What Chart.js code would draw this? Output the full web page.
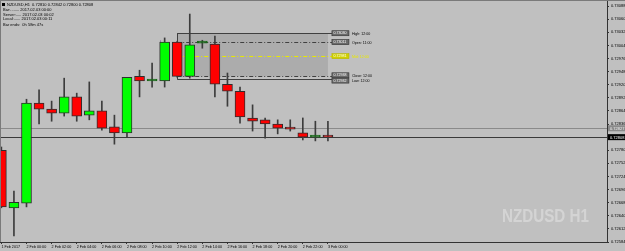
<!DOCTYPE html>
<html>
<head>
<meta charset="utf-8">
<script src="https://cdn.jsdelivr.net/npm/chart.js@4.4.1/dist/chart.umd.min.js"></script>
<style>
html, body { margin: 0; padding: 0; background: #c0c0c0; }
canvas { display: block; }
</style>
</head>
<body>
<canvas id="chart" width="625" height="251"></canvas>
<script>
// NZDUSD H1, 1 Feb 22:00 .. 3 Feb 00:00
var opens  = [0.72780, 0.72657, 0.72667, 0.72881, 0.72868, 0.72859, 0.72894, 0.72855, 0.72864, 0.72830,
              0.72817, 0.72938, 0.72928, 0.72928, 0.73011, 0.72938, 0.73009, 0.73007, 0.72921, 0.72906,
              0.72849, 0.72845, 0.72836, 0.72827, 0.72817, 0.72808, 0.72810];
var highs  = [0.72787, 0.72693, 0.72889, 0.72909, 0.72885, 0.72934, 0.72902, 0.72926, 0.72885, 0.72855,
              0.72936, 0.72951, 0.72966, 0.73020, 0.73013, 0.73071, 0.73015, 0.73024, 0.72945, 0.72915,
              0.72877, 0.72849, 0.72845, 0.72845, 0.72849, 0.72842, 0.72842];
var lows   = [0.72657, 0.72597, 0.72659, 0.72836, 0.72842, 0.72853, 0.72842, 0.72845, 0.72823, 0.72793,
              0.72808, 0.72894, 0.72915, 0.72915, 0.72936, 0.72934, 0.72998, 0.72894, 0.72874, 0.72838,
              0.72821, 0.72806, 0.72815, 0.72821, 0.72802, 0.72800, 0.72800];
var closes = [0.72659, 0.72669, 0.72881, 0.72868, 0.72859, 0.72894, 0.72853, 0.72864, 0.72827, 0.72817,
              0.72936, 0.72928, 0.72928, 0.73011, 0.72938, 0.73005, 0.73009, 0.72921, 0.72906, 0.72851,
              0.72842, 0.72836, 0.72827, 0.72825, 0.72808, 0.72808, 0.72808];

var yTicks = [0.73088, 0.73060, 0.73032, 0.73004, 0.72976, 0.72948, 0.72920, 0.72892, 0.72864, 0.72836,
              0.72808, 0.72780, 0.72752, 0.72724, 0.72696, 0.72668, 0.72640, 0.72612, 0.72584];
var xTickBars = [0, 2, 4, 6, 8, 10, 12, 14, 16, 18, 20, 22, 24, 26];
var xTickLabels = ['1 Feb 2017', '2 Feb 00:00', '2 Feb 02:00', '2 Feb 04:00', '2 Feb 06:00', '2 Feb 08:00',
                   '2 Feb 10:00', '2 Feb 12:00', '2 Feb 14:00', '2 Feb 16:00', '2 Feb 18:00', '2 Feb 20:00',
                   '2 Feb 22:00', '3 Feb 00:00'];

var bid = 0.72808;
var ask = 0.72827;

// range box object drawn on the chart
var boxFrom = 14, boxTo = 26;
var boxLevels = [0.73030, 0.73011, 0.72981, 0.72938, 0.72932];
var boxNames  = ['High: 12:00', 'Open: 11:00', 'Mid: 12:00', 'Close: 12:00', 'Low: 12:00'];

var infoLines = ['NZDUSD,H1  0.72810 0.72842 0.72800 0.72808',
                 'Bar:........ 2017.02.03 00:00',
                 'Server:..... 2017.02.03 00:02',
                 'Local:...... 2017.02.03 00:11',
                 'Bar ends:  0h 58m 47s'];

var bodies = [], wicks = [], fills = [], edges = [];
for (var i = 0; i < opens.length; i++) {
    bodies.push({x: i, y: [opens[i], closes[i]]});
    wicks.push({x: i, y: [lows[i], highs[i]]});
    if (closes[i] > opens[i]) { fills.push('#00ff00'); edges.push('#2e2e2e'); }
    else if (closes[i] < opens[i]) { fills.push('#ff0000'); edges.push('#2e2e2e'); }
    else { fills.push('#1a6a1a'); edges.push('#1a6a1a'); }
}

var FONT = '"Liberation Sans", Arial, sans-serif';

var mtPlugin = {
    id: 'mt',
    beforeDraw: function(c) {
        var ctx = c.ctx;
        ctx.save();
        ctx.fillStyle = '#c0c0c0';
        ctx.fillRect(0, 0, c.width, c.height);
        ctx.restore();
    },
    beforeDatasetsDraw: function(c) {
        var ctx = c.ctx, xs = c.scales.x, ys = c.scales.y, a = c.chartArea;
        var x0 = xs.getPixelForValue(boxFrom), x1 = xs.getPixelForValue(boxTo);
        var yl = boxLevels.map(function(v) { return ys.getPixelForValue(v); });
        ctx.save();
        // box fill
        ctx.fillStyle = '#acacac';
        ctx.fillRect(x0, yl[0], x1 - x0, yl[3] - yl[0]);
        // bid / ask lines
        ctx.lineWidth = 1;
        ctx.strokeStyle = '#8a8a8a';
        var ya = Math.round(ys.getPixelForValue(ask)) + 0.5;
        ctx.beginPath(); ctx.moveTo(a.left, ya); ctx.lineTo(a.right, ya); ctx.stroke();
        ctx.strokeStyle = '#3a3a3a';
        var yb = Math.round(ys.getPixelForValue(bid)) + 0.5;
        ctx.beginPath(); ctx.moveTo(a.left, yb); ctx.lineTo(a.right, yb); ctx.stroke();
        // box lines
        var xe = x1 + 4;
        for (var k = 0; k < yl.length; k++) {
            var y = Math.round(yl[k]) + 0.5;
            ctx.strokeStyle = k === 2 ? '#e8e800' : '#404040';
            ctx.setLineDash(k === 0 || k === 4 ? [] : [4, 2, 1, 2]);
            ctx.beginPath(); ctx.moveTo(x0, y); ctx.lineTo(xe, y); ctx.stroke();
        }
        ctx.setLineDash([]);
        ctx.strokeStyle = '#404040';
        ctx.beginPath();
        ctx.moveTo(Math.round(x0) + 0.5, yl[0]); ctx.lineTo(Math.round(x0) + 0.5, yl[4]);
        ctx.stroke();
        // separator
        ctx.strokeStyle = '#a070b0';
        var xp = Math.round(xs.getPixelForValue(12.6)) + 0.5;
        ctx.beginPath(); ctx.moveTo(xp, ys.getPixelForValue(0.73015)); ctx.lineTo(xp, ys.getPixelForValue(0.72930)); ctx.stroke();
        ctx.restore();
    },
    afterDraw: function(c) {
        var ctx = c.ctx, xs = c.scales.x, ys = c.scales.y, a = c.chartArea;
        ctx.save();
        // box labels
        var xl = xs.getPixelForValue(boxTo) + 4;
        ctx.textBaseline = 'middle';
        for (var k = 0; k < boxLevels.length; k++) {
            var y = ys.getPixelForValue(boxLevels[k]);
            if (k === 4) y += 1.5;
            if (k === 3) y -= 1;
            ctx.fillStyle = k === 2 ? '#d0d000' : '#6a6a6a';
            ctx.fillRect(xl, y - 2.5, 17, 5);
            ctx.strokeStyle = k === 2 ? '#b8b800' : '#303030';
            ctx.lineWidth = 0.6;
            ctx.strokeRect(xl, y - 2.5, 17, 5);
            ctx.font = '3.6px ' + FONT;
            ctx.fillStyle = '#ffffff';
            ctx.textAlign = 'left';
            ctx.fillText(boxLevels[k].toFixed(5), xl + 1.5, y + 0.2);
            ctx.fillStyle = k === 2 ? '#e8e800' : '#000000';
            ctx.fillText(boxNames[k], xl + 20, y + 0.5);
        }
        // price tags on the axis
        var tags = [[ask, '#8a8a8a', '#f0f0f0'], [bid, '#000000', '#ffffff']];
        ctx.font = '4px ' + FONT;
        for (var t = 0; t < tags.length; t++) {
            var yt = ys.getPixelForValue(tags[t][0]);
            ctx.fillStyle = tags[t][1];
            ctx.fillRect(a.right + 1, yt - 3, 18, 6);
            ctx.fillStyle = tags[t][2];
            ctx.fillText(tags[t][0].toFixed(5), a.right + 3, yt + 0.3);
        }
        // info lines
        ctx.fillStyle = '#000';
        ctx.fillRect(2, 3, 3, 3);
        ctx.font = '4px ' + FONT;
        var ly = [4.5, 10, 14.5, 19, 24.5];
        for (var j = 0; j < infoLines.length; j++) {
            ctx.fillText(infoLines[j], j === 0 ? 7 : 3, ly[j]);
        }
        // watermark (condensed)
        ctx.save();
        ctx.translate(589, 222);
        ctx.scale(0.8, 1);
        ctx.font = 'bold 19px "Liberation Sans", Arial, sans-serif';
        ctx.fillStyle = '#d4d4d4';
        ctx.textAlign = 'right';
        ctx.textBaseline = 'alphabetic';
        ctx.fillText('NZDUSD H1', 0, 0);
        ctx.restore();
        // frame
        ctx.fillStyle = '#7a7a7a';
        ctx.fillRect(0, 0, c.width, 1);
        ctx.fillRect(0, 0, 1, a.bottom);
        ctx.restore();
    }
};

var ctx = document.getElementById('chart').getContext('2d');
var chart = new Chart(ctx, {
    type: 'bar',
    data: {
        datasets: [{
            label: 'Body',
            data: bodies,
            backgroundColor: fills,
            borderColor: edges,
            borderWidth: 1,
            borderSkipped: false,
            barThickness: 10,
            minBarLength: 2,
            grouped: false,
            order: 1
        }, {
            label: 'Wick',
            data: wicks,
            backgroundColor: '#3c3c3c',
            borderWidth: 0,
            barThickness: 1,
            grouped: false,
            order: 2
        }]
    },
    options: {
        responsive: false,
        devicePixelRatio: 1,
        animation: false,
        events: [],
        layout: { padding: 0 },
        plugins: { legend: { display: false }, tooltip: { enabled: false } },
        scales: {
            x: {
                type: 'linear',
                position: 'bottom',
                min: -0.11,
                max: 48.22,
                offset: false,
                afterBuildTicks: function(s) { s.ticks = xTickBars.map(function(v) { return {value: v}; }); },
                afterFit: function(s) { s.height = 9; s.paddingLeft = 0; s.paddingRight = 0; },
                ticks: {
                    autoSkip: false, maxRotation: 0, minRotation: 0, align: 'start', padding: 1,
                    color: '#000', font: { size: 3.7, family: FONT },
                    callback: function(v) { return xTickLabels[xTickBars.indexOf(v)]; }
                },
                grid: { drawOnChartArea: false, offset: false, tickLength: 2, color: '#333' },
                border: { color: '#333' }
            },
            y: {
                position: 'right',
                min: 0.72584,
                max: 0.73101,
                afterBuildTicks: function(s) { s.ticks = yTicks.map(function(v) { return {value: v}; }); },
                afterFit: function(s) { s.width = 18; s.paddingTop = 0; s.paddingBottom = 0; },
                ticks: {
                    padding: 2, color: '#000', font: { size: 4, family: FONT },
                    callback: function(v) { return v.toFixed(5); }
                },
                grid: { drawOnChartArea: false, tickLength: 2, color: '#333' },
                border: { color: '#333' }
            }
        }
    },
    plugins: [mtPlugin]
});
</script>
</body>
</html>
